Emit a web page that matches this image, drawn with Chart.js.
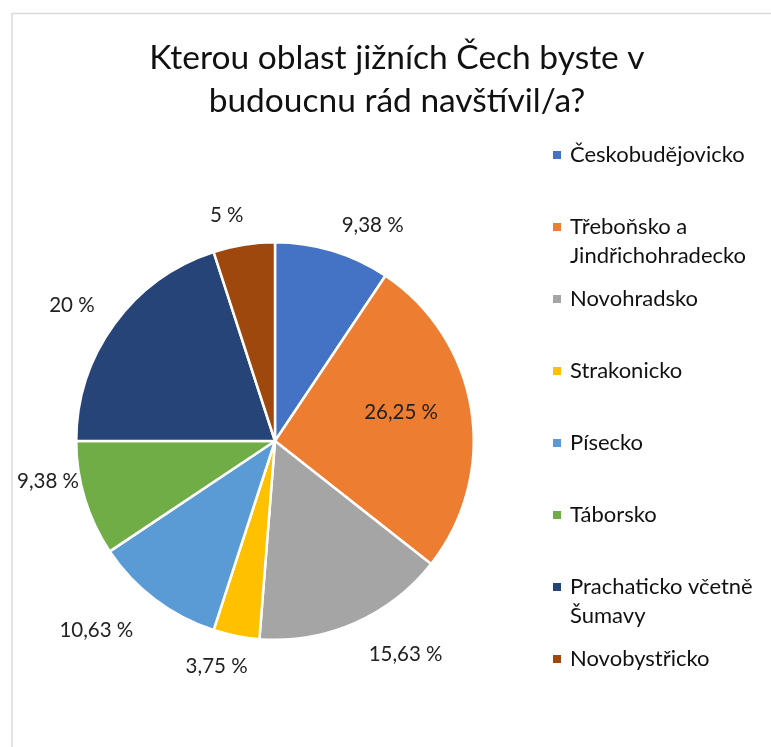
<!DOCTYPE html>
<html>
<head>
<meta charset="utf-8">
<script src="https://cdn.jsdelivr.net/npm/chart.js@4.4.1/dist/chart.umd.min.js"></script>
<style>
  html, body { margin: 0; padding: 0; background: #fff; }
  #wrap { position: relative; width: 771px; height: 747px; }
</style>
</head>
<body>
<div id="wrap"><canvas id="pie" width="771" height="747"></canvas></div>
<script>
const titleLines = ['Kterou oblast jižních Čech byste v', 'budoucnu rád navštívil/a?'];
const regions = ['Českobudějovicko', 'Třeboňsko a Jindřichohradecko', 'Novohradsko', 'Strakonicko',
  'Písecko', 'Táborsko', 'Prachaticko včetně Šumavy', 'Novobystřicko'];
const shares = [9.38, 26.25, 15.63, 3.75, 10.63, 9.38, 20, 5];
const colors = ['#4472C4', '#ED7D31', '#A5A5A5', '#FFC000', '#5B9BD5', '#70AD47', '#264478', '#9E480E'];

const fontFam = 'Lato, "Open Sans", sans-serif';

// label placement like Excel "best fit": radius factor + small angle nudge (deg)
const labelPos = [[1.19, 7.5], [0.65, -3.6], [1.26, -7.8], [1.17, 3.3], [1.31, 6.2], [1.16, 6.8], [1.23, -2.2], [1.16, -3.1]];

function wrapText(ctx, text, maxW) {
    const words = text.split(' ');
    const lines = [];
    let cur = '';
    words.forEach(w => {
        const test = cur ? cur + ' ' + w : w;
        if (ctx.measureText(test).width > maxW && cur) {
            lines.push(cur);
            cur = w;
        } else {
            cur = test;
        }
    });
    if (cur) lines.push(cur);
    return lines;
}

const decor = {
    id: 'decor',
    beforeDraw(chart) {
        const ctx = chart.ctx;
        ctx.save();
        ctx.strokeStyle = '#d9d9d9';
        ctx.lineWidth = 1.5;
        ctx.beginPath();
        ctx.moveTo(12, 760);
        ctx.lineTo(12, 13.5);
        ctx.lineTo(780, 13.5);
        ctx.stroke();
        ctx.restore();
    },
    afterDraw(chart) {
        const ctx = chart.ctx;
        ctx.save();
        // title
        ctx.fillStyle = '#111';
        ctx.font = '33.5px ' + fontFam;
        ctx.textAlign = 'center';
        ctx.textBaseline = 'middle';
        titleLines.forEach((t, i) => ctx.fillText(t, 397, 58 + i * 43));

        // data labels
        const meta = chart.getDatasetMeta(0);
        ctx.font = '20.5px ' + fontFam;
        ctx.fillStyle = '#222';
        meta.data.forEach((arc, i) => {
            const p = arc.getProps(['x', 'y', 'startAngle', 'endAngle', 'outerRadius'], true);
            const mid = (p.startAngle + p.endAngle) / 2 + labelPos[i][1] * Math.PI / 180;
            const d = p.outerRadius * labelPos[i][0];
            const txt = shares[i].toString().replace('.', ',') + ' %';
            ctx.fillText(txt, p.x + Math.cos(mid) * d, p.y + Math.sin(mid) * d);
        });

        // legend
        ctx.textAlign = 'left';
        ctx.font = '22px ' + fontFam;
        regions.forEach((r, i) => {
            const y = 155 + i * 72;
            ctx.fillStyle = colors[i];
            ctx.fillRect(553, y - 4, 8, 8);
            ctx.fillStyle = '#111';
            wrapText(ctx, r, 195).forEach((ln, k) => ctx.fillText(ln, 570, y + k * 28.5));
        });
        ctx.restore();
    }
};

new Chart(document.getElementById('pie'), {
    type: 'pie',
    data: {
        labels: regions,
        datasets: [{ data: shares, backgroundColor: colors, borderColor: '#fff', borderWidth: 2.5 }]
    },
    options: {
        responsive: false,
        animation: false,
        layout: { padding: { left: 75, top: 241, right: 296, bottom: 106 } },
        plugins: { legend: { display: false }, tooltip: { enabled: false }, title: { display: false } }
    },
    plugins: [decor]
});
</script>
</body>
</html>
